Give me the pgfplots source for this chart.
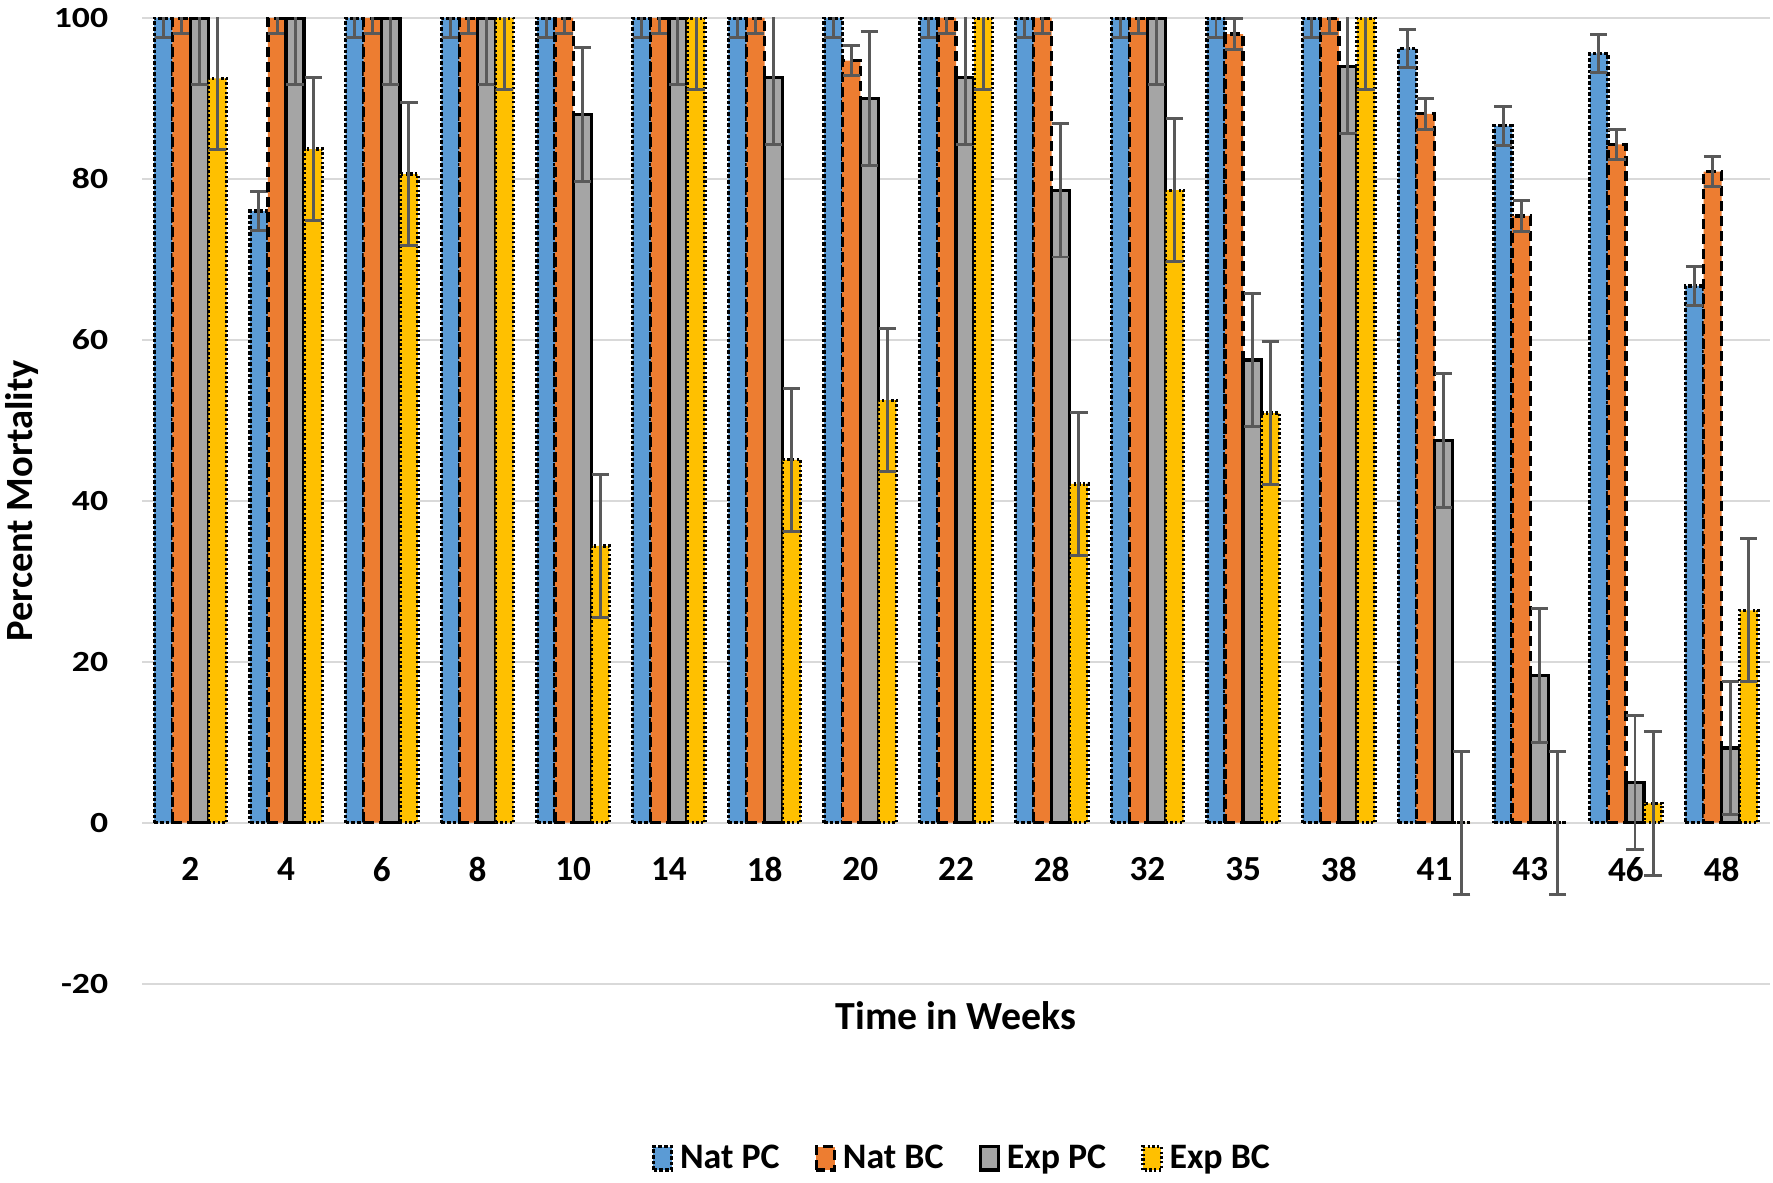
\documentclass[border=0pt]{standalone}
\usepackage{pgfplots}
\pgfplotsset{compat=1.18}
\usepackage{pgfplotstable}
\usepackage{fontspec}
\setmainfont{Carlito}
\definecolor{cblue}{HTML}{5B9BD5}
\definecolor{corange}{HTML}{ED7D31}
\definecolor{cgray}{HTML}{A5A5A5}
\definecolor{cyellow}{HTML}{FFC000}
\definecolor{errc}{HTML}{595959}
\definecolor{gridc}{HTML}{D9D9D9}
\pgfplotstableread{
x npc npce nbc nbce epc epce ebc ebce
0 100 2.4 100 1.9 100 8.3 92.5 8.9
1 76.0 2.4 100 1.9 100 8.3 83.7 8.9
2 100 2.4 100 1.9 100 8.3 80.6 8.9
3 100 2.4 100 1.9 100 8.3 100 8.9
4 100 2.4 100 1.9 88.0 8.3 34.4 8.9
5 100 2.4 100 1.9 100 8.3 100 8.9
6 100 2.4 100 1.9 92.6 8.3 45.1 8.9
7 100 2.4 94.7 1.9 90.0 8.3 52.5 8.9
8 100 2.4 100 1.9 92.6 8.3 100 8.9
9 100 2.4 100 1.9 78.6 8.3 42.1 8.9
10 100 2.4 100 1.9 100 8.3 78.6 8.9
11 100 2.4 98.0 1.9 57.5 8.3 50.9 8.9
12 100 2.4 100 1.9 94.0 8.3 100 8.9
13 96.2 2.4 88.1 1.9 47.5 8.3 0 8.9
14 86.6 2.4 75.4 1.9 18.3 8.3 0 8.9
15 95.6 2.4 84.3 1.9 5.0 8.3 2.4 8.9
16 66.7 2.4 80.9 1.9 9.3 8.3 26.4 8.9
}\datatab
\pgfplotsset{
  mylegend/.style={legend image code/.code={\draw[##1] (0bp,-3.3bp) rectangle (5.5bp,3.7bp);}},
  myerr/.style={error bars/.cd, y dir=both, y explicit,
    error bar style={solid, errc, line width=0.9pt},
    error mark options={rotate=90, solid, errc, mark size=2.6bp, line width=0.9pt}},
}
\begin{document}
\begin{tikzpicture}
\begin{axis}[
  scale only axis, width=488.1bp, height=289.7bp,
  ybar=0pt, bar width=0.189,
  xmin=-0.5, xmax=16.5, ymin=-20, ymax=100,
  xtick={0,...,16},
  xticklabels={2,4,6,8,10,14,18,20,22,28,32,35,38,41,43,46,48},
  ytick={-20,0,20,40,60,80,100},
  xtick style={draw=none}, ytick style={draw=none},
  axis line style={draw=none},
  ymajorgrids, grid style={gridc, line width=0.6bp},
  /pgf/number format/assume math mode=true,
  xticklabel style={font=\bfseries\fontsize{10.6}{12}\selectfont, yshift=45.6bp},
  yticklabel style={font=\bfseries\fontsize{8.8}{10}\selectfont, xshift=-6.8bp},
  yticklabel={\scalebox{1.22}[1]{\pgfmathprintnumber{\tick}}},
  xlabel={Time in Weeks},
  xlabel style={font=\bfseries\fontsize{12}{14}\selectfont, at={(axis description cs:0.5,0)}, anchor=center, yshift=-9.5bp},
  ylabel={Percent Mortality},
  ylabel style={font=\bfseries\fontsize{11.6}{14}\selectfont, at={(axis description cs:0,0.5)}, anchor=center, yshift=36bp},
  legend style={at={(axis description cs:0.505,0)}, anchor=center, yshift=-52.6bp, draw=none,
    font=\bfseries\fontsize{10.8}{12}\selectfont,
    /tikz/every even column/.append style={column sep=8.5bp}},
  legend columns=4,
]
\addplot[fill=cblue, draw=black, line width=1bp, dash pattern=on 1.1bp off 0.6bp, mylegend, myerr]
  table[x=x, y=npc, y error=npce]{\datatab};
\addplot[fill=corange, draw=black, line width=1bp, dash pattern=on 3bp off 1.5bp, mylegend, myerr]
  table[x=x, y=nbc, y error=nbce]{\datatab};
\addplot[fill=cgray, draw=black, line width=1bp, solid, mylegend, myerr]
  table[x=x, y=epc, y error=epce]{\datatab};
\addplot[fill=cyellow, draw=black, line width=1bp, dash pattern=on 0.7bp off 0.7bp, mylegend, myerr]
  table[x=x, y=ebc, y error=ebce]{\datatab};
\legend{Nat PC, Nat BC, Exp PC, Exp BC}
\end{axis}
\pgfresetboundingbox
\path[use as bounding box] (-42.75bp,-59.5bp) rectangle (489.15bp,295.1bp);
\end{tikzpicture}
\end{document}
